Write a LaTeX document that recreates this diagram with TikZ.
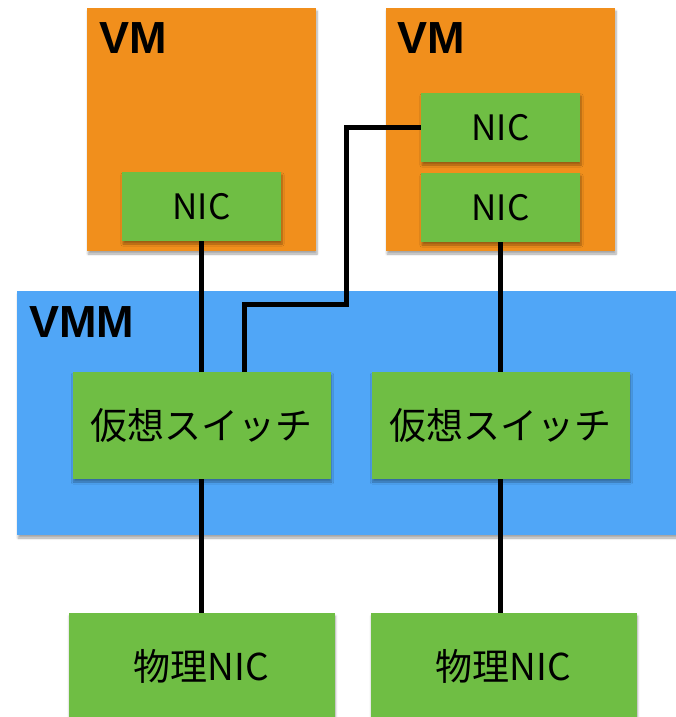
\documentclass[tikz,border=0pt]{standalone}
\usepackage{fontspec}
\setmainfont{Noto Sans CJK JP}
\newfontfamily\titlefont{Liberation Sans}
\usetikzlibrary{shadows.blur}
\definecolor{vmorange}{RGB}{241,143,28}
\definecolor{boxgreen}{RGB}{111,190,68}
\definecolor{vmmblue}{RGB}{80,166,247}
\tikzset{
  panel/.style={draw=none, inner sep=0pt, minimum width=#1,
    blur shadow={shadow xshift=1pt, shadow yshift=-3pt, shadow blur steps=6, shadow opacity=35}},
  vmbox/.style={panel=229pt, fill=vmorange, minimum height=243pt},
  nicbox/.style={panel=159pt, fill=boxgreen, minimum height=69pt, font=\fontsize{35}{40}\selectfont},
  swbox/.style={panel=258pt, fill=boxgreen, minimum height=107pt, font=\fontsize{37}{42}\selectfont},
  physbox/.style={panel=266pt, fill=boxgreen, minimum height=107pt, font=\fontsize{37}{42}\selectfont},
  title/.style={anchor=base west, inner sep=0pt, font=\titlefont\bfseries\fontsize{45}{48}\selectfont},
  wire/.style={line width=5pt, black}
}
\begin{document}
\begin{tikzpicture}[x=1pt, y=-1pt]
\useasboundingbox (0,0) rectangle (676,717);
\begin{scope}
\clip (0,0) rectangle (676,717);
% hypervisor layer
\node[panel=660pt, fill=vmmblue, minimum height=244pt] (vmm) at (347,413) {};
\node[title] (vmmlabel) at (29,337) {VMM};
% guest machines
\node[vmbox] (vmA) at (201.5,129.5) {};
\node[title] (vmAlabel) at (99,53) {VM};
\node[vmbox] (vmB) at (500.5,129.5) {};
\node[title] (vmBlabel) at (397,53) {VM};
% virtual NICs
\node[nicbox] (nicA) at (201.5,206.5) {NIC};
\node[nicbox] (nicB1) at (500.5,127.5) {NIC};
\node[nicbox] (nicB2) at (500.5,207.5) {NIC};
% virtual switches
\node[swbox] (swA) at (201.5,425.5) {仮想スイッチ};
\node[swbox] (swB) at (500.5,425.5) {仮想スイッチ};
% physical NICs
\node[physbox] (phA) at (201.5,666.5) {物理NIC};
\node[physbox] (phB) at (503.5,666.5) {物理NIC};
% wiring
\coordinate (bend) at (346,304);
\coordinate (drop) at (244,372);
\draw[wire] (nicA.south) -- (swA.north);
\draw[wire] (swA.south) -- (swA.south |- phA.north);
\draw[wire] (nicB1.west) -| (bend) -| (drop);
\draw[wire] (nicB2.south) -- (swB.north);
\draw[wire] (swB.south) -- (swB.south |- phB.north);
\end{scope}
\end{tikzpicture}
\end{document}
